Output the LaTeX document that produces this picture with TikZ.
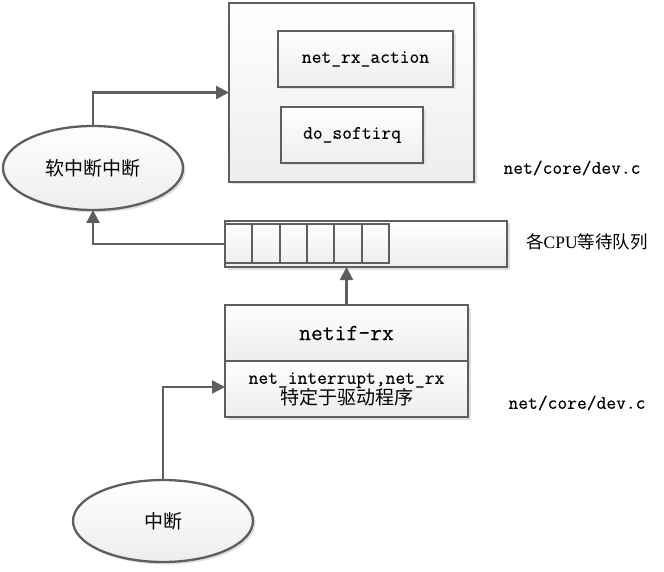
\documentclass[tikz,border=0pt]{standalone}
\usepackage{fontspec}
\setmainfont{Liberation Serif}
\setmonofont[FakeBold=0.3]{Latin Modern Mono}
\newfontfamily\cjk{Noto Sans CJK SC}
\usetikzlibrary{arrows.meta,shapes.geometric,shadows}

\definecolor{edgegray}{HTML}{5E5E5E}
\definecolor{fillgray}{HTML}{EDEDED}

\tikzset{
  box/.style={draw=edgegray, line width=2.3pt, top color=white, bottom color=fillgray,
    drop shadow={shadow xshift=2.5pt, shadow yshift=-2.5pt, fill=black!12, opacity=1},
    inner sep=0pt, outer sep=0pt},
  oval/.style={box, ellipse},
  cell/.style={draw=edgegray, line width=2.3pt},
  flow/.style={draw=edgegray, line width=2.3pt, -{Triangle[length=13pt,width=13pt]}},
  code/.style={font=\ttfamily\fontsize{19}{22}\selectfont},
  cn/.style={font=\cjk\fontsize{19}{22}\selectfont}
}

\begin{document}
\begin{tikzpicture}[x=1pt,y=-1pt]
\useasboundingbox (0,0) rectangle (664,572);

% softirq side
\node[box, minimum width=245pt, minimum height=179pt] (core) at (351.5,92.5) {};
\node[box, code, minimum width=175pt, minimum height=56pt] (rxact) at (365.5,59) {net\_rx\_action};
\node[box, code, minimum width=142pt, minimum height=56pt] (softirq) at (352,135) {do\_softirq};
\node[oval, cn, minimum width=180pt, minimum height=84pt] (soft) at (93,168) {软中断中断};
\node[code, anchor=center] (src1) at (572,168) {net/core/dev.c};

% per-cpu queue
\node[box, minimum width=282pt, minimum height=46pt] (queue) at (366,244) {};
\draw[cell] (225,224) rectangle (389,263);
\foreach \i in {1,...,5}
  \draw[cell] ({225+\i*27.33},224) -- ({225+\i*27.33},263);
\node[font=\fontsize{17.5}{20}\selectfont, anchor=center] (qlabel) at (587,242) {{\cjk 各}CPU{\cjk 等待队列}};

% driver side
\node[box, minimum width=243pt, minimum height=56pt, font=\ttfamily\fontsize{23}{26}\selectfont] (netif) at (346.5,333) {netif-rx};
\node[box, minimum width=243pt, minimum height=56pt, align=center] (drv) at (346.5,389)
  {\ttfamily\fontsize{19}{22}\selectfont net\_interrupt,net\_rx\\[-1pt]
   \cjk\fontsize{19}{22}\selectfont 特定于驱动程序};
\node[code, anchor=center] (src2) at (577,403) {net/core/dev.c};
\node[oval, cn, minimum width=180pt, minimum height=82pt] (irq) at (163,521) {中断};

% connectors
\draw[flow] (soft.north) |- (core.west);
\draw[flow] (queue.west) -| (soft.south);
\draw[flow] (netif.north) -- (netif.north |- queue.south);
\draw[flow] (irq.north) |- ([yshift=2pt]drv.west);
\end{tikzpicture}
\end{document}
